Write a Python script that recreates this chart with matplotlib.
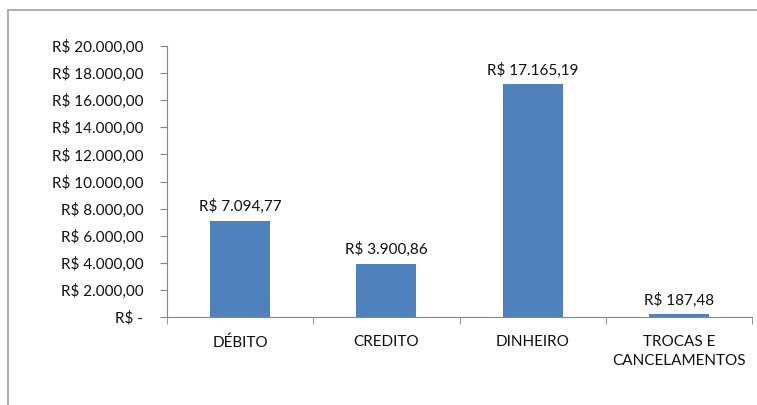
import matplotlib
matplotlib.use('Agg')
import matplotlib.pyplot as plt
from matplotlib.patches import Rectangle
from matplotlib.ticker import FuncFormatter, FixedLocator

categories = ['DÉBITO', 'CREDITO', 'DINHEIRO', 'TROCAS E\nCANCELAMENTOS']
values = [7094.77, 3900.86, 17165.19, 187.48]


def brl(v, pos=None):
    if v == 0:
        return 'R$ -'
    s = f'{v:,.2f}'.replace(',', 'X').replace('.', ',').replace('X', '.')
    return 'R$ ' + s


plt.rcParams['font.family'] = ['Lato', 'DejaVu Sans']

fig = plt.figure(figsize=(7.57, 4.05), dpi=100)
fig.patches.append(Rectangle((8 / 757, -0.1), 1.1, 1 - 10 / 405 + 0.1,
                             transform=fig.transFigure, fill=False,
                             edgecolor='#a6a6a6', linewidth=1.3))

ax = fig.add_axes([167 / 757, 1 - 317 / 405, 585 / 757, 271 / 405])
x = range(len(categories))
ax.bar(x, values, width=0.41, color='#4f81bd', zorder=2)

fs = 11
for xi, v in zip(x, values):
    ax.annotate(brl(v), (xi, v), xytext=(0, 5), textcoords='offset points',
                ha='center', va='bottom', fontsize=fs, color='#111111')

ax.set_xlim(-0.5, len(categories) - 0.5)
ax.set_ylim(0, 20000)
ax.set_yticks(range(0, 20001, 2000))
ax.yaxis.set_major_formatter(FuncFormatter(brl))
ax.set_xticks(list(x))
ax.set_xticklabels(categories, fontsize=fs, color='#111111', linespacing=1.45)
ax.xaxis.set_minor_locator(FixedLocator([i - 0.5 for i in range(len(categories) + 1)]))
ax.tick_params(axis='x', which='major', length=0, pad=13)
ax.tick_params(axis='x', which='minor', length=5, color='#868686')
ax.tick_params(axis='y', length=5, color='#868686', labelsize=fs,
               labelcolor='#111111', pad=12)

for side in ['top', 'right']:
    ax.spines[side].set_visible(False)
for side in ['left', 'bottom']:
    ax.spines[side].set_color('#868686')

fig.savefig('out.png', dpi=100)
